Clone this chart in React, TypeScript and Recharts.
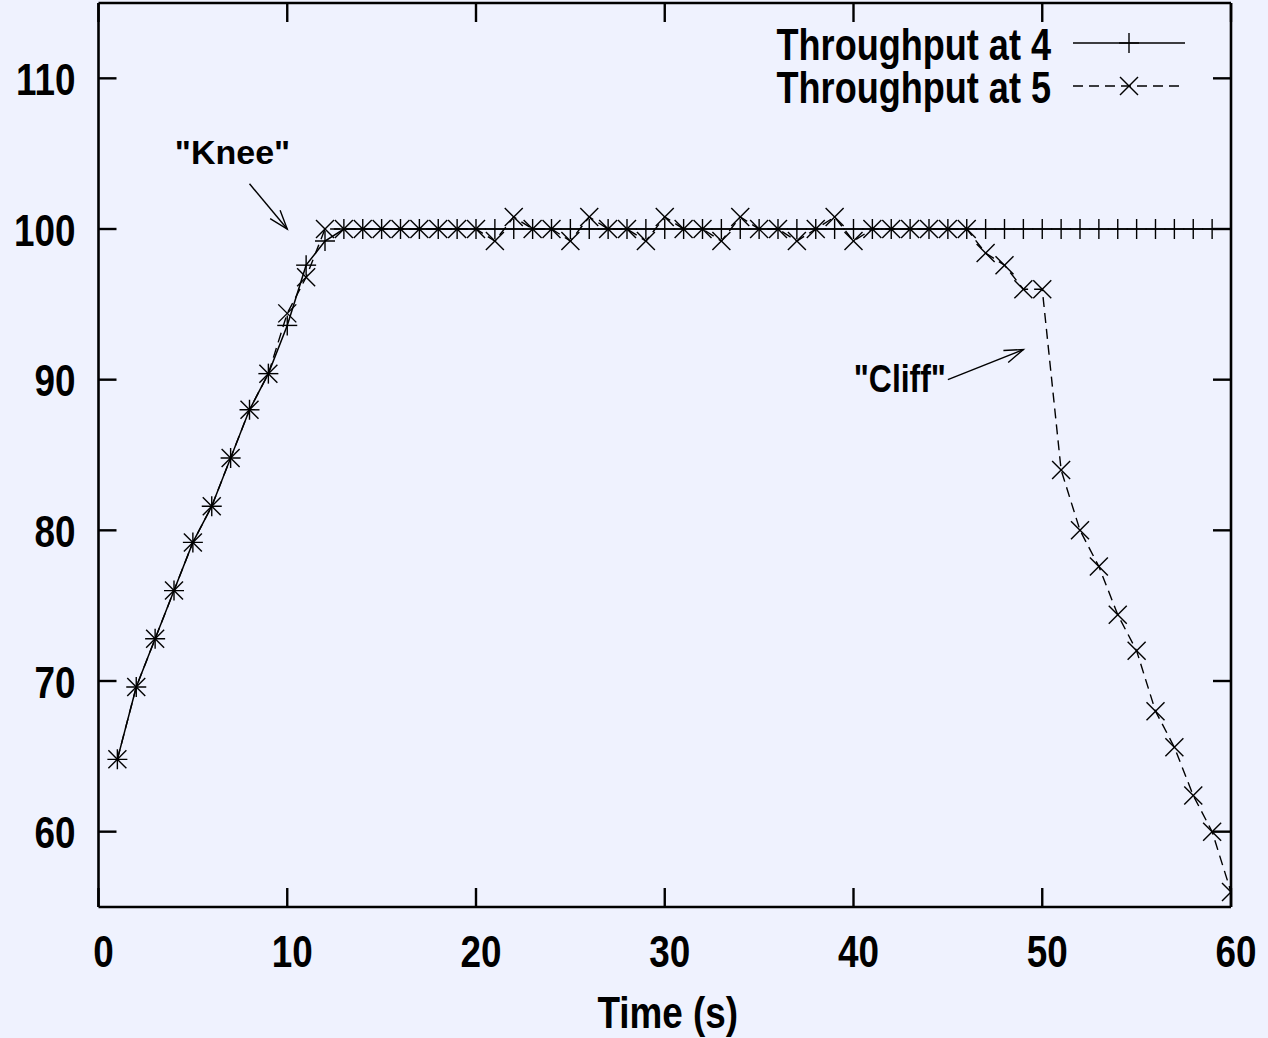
import React from 'react';
import { LineChart, Line, XAxis, YAxis, ReferenceLine, ReferenceDot, Legend } from 'recharts';

// ---------- data ----------
const timeSec = [
  1, 2, 3, 4, 5, 6, 7, 8, 9, 10,
  11, 12, 13, 14, 15, 16, 17, 18, 19, 20,
  21, 22, 23, 24, 25, 26, 27, 28, 29, 30,
  31, 32, 33, 34, 35, 36, 37, 38, 39, 40,
  41, 42, 43, 44, 45, 46, 47, 48, 49, 50,
  51, 52, 53, 54, 55, 56, 57, 58, 59, 60,
];

const throughputAt4 = [
  64.8, 69.6, 72.8, 76, 79.2, 81.6, 84.8, 88, 90.4, 93.6,
  97.6, 99.2, 100, 100, 100, 100, 100, 100, 100, 100,
  100, 100, 100, 100, 100, 100, 100, 100, 100, 100,
  100, 100, 100, 100, 100, 100, 100, 100, 100, 100,
  100, 100, 100, 100, 100, 100, 100, 100, 100, 100,
  100, 100, 100, 100, 100, 100, 100, 100, 100, 100,
];

const throughputAt5 = [
  64.8, 69.6, 72.8, 76, 79.2, 81.6, 84.8, 88, 90.4, 94.4,
  96.8, 100, 100, 100, 100, 100, 100, 100, 100, 100,
  99.2, 100.8, 100, 100, 99.2, 100.8, 100, 100, 99.2, 100.8,
  100, 100, 99.2, 100.8, 100, 100, 99.2, 100, 100.8, 99.2,
  100, 100, 100, 100, 100, 100, 98.4, 97.6, 96, 96,
  84, 80, 77.6, 74.4, 72, 68, 65.6, 62.4, 60, 56,
];

const xTicks = [0, 10, 20, 30, 40, 50, 60];
const yTicks = [60, 70, 80, 90, 100, 110];
const xDomain = [0, 60];
const yDomain = [55, 115];

const seriesNames = ['Throughput at 4', 'Throughput at 5'];
const xAxisLabel = 'Time (s)';

const annotationTexts = ['"Knee"', '"Cliff"'];
const annotationTextAt = [
  { x: 7.1, y: 104.3 },
  { x: 44.9, y: 89.2 },
];
const annotationArrows = [
  [{ x: 8, y: 103 }, { x: 10, y: 100 }],
  [{ x: 45, y: 90 }, { x: 49, y: 92 }],
];

const chartData = timeSec.map((t, i) => ({
  t,
  s4: throughputAt4[i],
  s5: throughputAt5[i],
}));

// ---------- styles ----------
const BG = '#eff2fe';
const INK = '#000';
const FONT = '"Liberation Sans", Arial, Helvetica, sans-serif';
const AXIS_W = 2.6;
const DASH = '10 6';

const condensed = (x: number, y: number, str: string, size: number, anchor: string, sx = 0.82) => (
  <text
    transform={`translate(${x} ${y}) scale(${sx} 1)`}
    textAnchor={anchor as any}
    fontSize={size}
    fontFamily={FONT}
    fontWeight={700}
    fill={INK}
  >
    {str}
  </text>
);

const BottomTick = (p: any) => (
  <g>
    <line x1={p.x} y1={p.y} x2={p.x} y2={p.y - 19} stroke={INK} strokeWidth={2.4} />
    {condensed(p.x + 5, p.y + 60, String(p.payload.value), 45, 'middle')}
  </g>
);
const TopTick = (p: any) => (
  <line x1={p.x} y1={p.y} x2={p.x} y2={p.y + 19} stroke={INK} strokeWidth={2.4} />
);
const LeftTick = (p: any) => (
  <g>
    <line x1={p.x} y1={p.y} x2={p.x + 18} y2={p.y} stroke={INK} strokeWidth={2.4} />
    {condensed(p.x - 23, p.y + 16.5, String(p.payload.value), 45, 'end')}
  </g>
);
const RightTick = (p: any) => (
  <line x1={p.x} y1={p.y} x2={p.x - 18} y2={p.y} stroke={INK} strokeWidth={2.4} />
);

const PlusMark = ({ cx, cy, s = 10 }: any) => (
  <g stroke={INK} strokeWidth={1.4}>
    <line x1={cx - s} y1={cy} x2={cx + s} y2={cy} />
    <line x1={cx} y1={cy - s} x2={cx} y2={cy + s} />
  </g>
);
const CrossMark = ({ cx, cy, s = 9 }: any) => (
  <g stroke={INK} strokeWidth={1.4}>
    <line x1={cx - s} y1={cy - s} x2={cx + s} y2={cy + s} />
    <line x1={cx - s} y1={cy + s} x2={cx + s} y2={cy - s} />
  </g>
);

const plusDot = (p: any) => <PlusMark key={`p${p.index}`} cx={p.cx} cy={p.cy} />;
const crossDot = (p: any) => <CrossMark key={`c${p.index}`} cx={p.cx} cy={p.cy} />;

const arrowShape = (p: any) => {
  const { x1, y1, x2, y2 } = p;
  const ang = Math.atan2(y2 - y1, x2 - x1);
  const L = 20;
  const a = 0.33;
  const hx1 = x2 - L * Math.cos(ang - a);
  const hy1 = y2 - L * Math.sin(ang - a);
  const hx2 = x2 - L * Math.cos(ang + a);
  const hy2 = y2 - L * Math.sin(ang + a);
  return (
    <g stroke={INK} strokeWidth={1.4} fill="none">
      <line x1={x1} y1={y1} x2={x2} y2={y2} />
      <polyline points={`${hx1},${hy1} ${x2},${y2} ${hx2},${hy2}`} />
    </g>
  );
};

const kneeText = (p: any) => (
  <text x={p.cx} y={p.cy} textAnchor="middle" fontSize={34} fontFamily={FONT} fontWeight={700} fill={INK}>
    {annotationTexts[0]}
  </text>
);
const cliffText = (p: any) => condensed(p.cx, p.cy, annotationTexts[1], 38, 'end', 0.84);

const LegendBox = () => {
  const rowY = [43, 86];
  return (
    <svg width={520} height={120} style={{ display: 'block', overflow: 'visible' }}>
      {seriesNames.map((name, i) => (
        <g key={name}>
          {condensed(351, rowY[i] + 16.5, name, 44, 'end')}
          <line
            x1={373}
            y1={rowY[i]}
            x2={485}
            y2={rowY[i]}
            stroke={INK}
            strokeWidth={1.4}
            strokeDasharray={i === 1 ? DASH : undefined}
          />
          {i === 0 ? <PlusMark cx={429} cy={rowY[i]} /> : <CrossMark cx={429} cy={rowY[i]} />}
        </g>
      ))}
    </svg>
  );
};

export default function App() {
  return (
    <div style={{ position: 'absolute', left: 0, top: 0, width: 1268, height: 1038, background: BG }}>
      <LineChart
        width={1268}
        height={1038}
        data={chartData}
        margin={{ top: 0, right: 0, bottom: 0, left: 0 }}
      >
        <XAxis
          xAxisId="b"
          dataKey="t"
          type="number"
          domain={xDomain}
          ticks={xTicks}
          interval={0}
          height={131}
          allowDataOverflow
          axisLine={{ stroke: INK, strokeWidth: AXIS_W }}
          tickLine={false}
          tickSize={0}
          tickMargin={0}
          tick={<BottomTick />}
          label={{
            value: xAxisLabel,
            content: (lp: any) => {
              const vb = lp.viewBox;
              return condensed(vb.x + vb.width / 2 + 3, vb.y + 121, xAxisLabel, 45, 'middle');
            },
          }}
        />
        <XAxis
          xAxisId="top"
          dataKey="t"
          orientation="top"
          type="number"
          domain={xDomain}
          ticks={xTicks}
          interval={0}
          height={3}
          allowDataOverflow
          axisLine={{ stroke: INK, strokeWidth: AXIS_W }}
          tickLine={false}
          tickSize={0}
          tickMargin={0}
          tick={<TopTick />}
        />
        <YAxis
          yAxisId="l"
          type="number"
          domain={yDomain}
          ticks={yTicks}
          interval={0}
          width={98.5}
          allowDataOverflow
          axisLine={{ stroke: INK, strokeWidth: AXIS_W }}
          tickLine={false}
          tickSize={0}
          tickMargin={0}
          tick={<LeftTick />}
        />
        <YAxis
          yAxisId="r"
          orientation="right"
          type="number"
          domain={yDomain}
          ticks={yTicks}
          interval={0}
          width={37}
          allowDataOverflow
          axisLine={{ stroke: INK, strokeWidth: AXIS_W }}
          tickLine={false}
          tickSize={0}
          tickMargin={0}
          tick={<RightTick />}
        />
        <Legend
          layout="vertical"
          align="center"
          verticalAlign="middle"
          wrapperStyle={{ left: 700, top: 0, width: 520, height: 120 }}
          content={() => <LegendBox />}
        />
        <Line
          xAxisId="b"
          yAxisId="l"
          type="linear"
          dataKey="s4"
          name={seriesNames[0]}
          stroke={INK}
          strokeWidth={1.5}
          dot={plusDot}
          activeDot={false}
          isAnimationActive={false}
        />
        <Line
          xAxisId="b"
          yAxisId="l"
          type="linear"
          dataKey="s5"
          name={seriesNames[1]}
          stroke={INK}
          strokeWidth={1.4}
          strokeDasharray={DASH}
          dot={crossDot}
          activeDot={false}
          isAnimationActive={false}
        />
        {annotationArrows.map((seg, i) => (
          <ReferenceLine
            key={`arrow${i}`}
            xAxisId="b"
            yAxisId="l"
            segment={seg}
            stroke={INK}
            shape={arrowShape}
          />
        ))}
        <ReferenceDot
          xAxisId="b"
          yAxisId="l"
          x={annotationTextAt[0].x}
          y={annotationTextAt[0].y}
          r={1}
          shape={kneeText}
        />
        <ReferenceDot
          xAxisId="b"
          yAxisId="l"
          x={annotationTextAt[1].x}
          y={annotationTextAt[1].y}
          r={1}
          shape={cliffText}
        />
      </LineChart>
    </div>
  );
}
